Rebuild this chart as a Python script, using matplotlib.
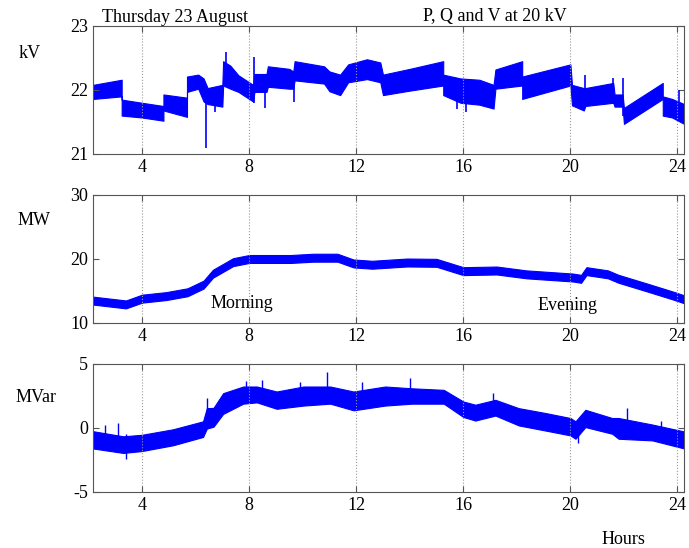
import numpy as np
import matplotlib.pyplot as plt

plt.rcParams['font.family'] = ['Liberation Serif', 'DejaVu Serif']
plt.rcParams['font.size'] = 12

# voltage band (kV); a repeated hour is a step change
kv_hours = [2.17, 3.24, 3.24, 4.0, 4.8, 4.8, 5.68, 5.68, 6.1, 6.3, 6.45, 7.0,
            7.03, 7.3, 7.6, 8.15, 8.2, 8.65, 8.7, 9.5, 9.65, 9.7, 10.8, 11.0,
            11.4, 11.7, 12.4, 12.9, 13.0, 14.0, 15.25, 15.25, 15.9, 16.6, 17.13,
            17.2, 18.2, 18.2, 20.0, 20.06, 20.5, 20.56, 21.6, 21.65, 21.95, 22.0,
            23.45, 23.45, 23.8, 24.25]
kv_low = [21.86, 21.9, 21.6, 21.57, 21.52, 21.68, 21.58, 21.97, 22.02, 21.82, 21.78, 21.74,
          22.07, 22.02, 21.97, 21.82, 21.97, 21.97, 22.05, 22.02, 22.02, 22.15, 22.1, 21.98,
          21.92, 22.12, 22.17, 22.12, 21.92, 21.99, 22.07, 21.92, 21.8, 21.77, 21.71,
          22.02, 22.07, 21.86, 22.07, 21.76, 21.68, 21.75, 21.8, 21.74, 21.74, 21.47,
          21.86, 21.6, 21.57, 21.47]
kv_high = [22.08, 22.16, 21.85, 21.8, 21.75, 21.93, 21.88, 22.21, 22.24, 22.18, 22.03, 22.08,
           22.45, 22.38, 22.23, 22.08, 22.25, 22.25, 22.37, 22.33, 22.29, 22.45, 22.37, 22.29,
           22.24, 22.4, 22.48, 22.43, 22.24, 22.33, 22.45, 22.24, 22.18, 22.16, 22.08,
           22.32, 22.45, 22.21, 22.4, 22.08, 22.03, 22.03, 22.11, 21.93, 21.93, 21.72,
           22.11, 21.9, 21.86, 21.78]
# narrow spikes in the voltage trace: hour, bottom, top
kv_spike_h = [6.38, 6.73, 7.15, 8.2, 8.6, 9.68, 15.75, 16.1, 20.55, 21.6, 21.97, 24.05]
kv_spike_lo = [21.09, 21.66, 22.2, 21.8, 21.72, 21.82, 21.7, 21.66, 21.9, 21.8, 21.6, 21.6]
kv_spike_hi = [21.9, 22.0, 22.6, 22.52, 22.0, 22.1, 22.1, 22.0, 22.23, 22.18, 22.18, 22.0]

# active power (MW), centre of the band
mw_hours = [2.17, 3.4, 4.0, 4.9, 5.7, 6.3, 6.65, 7.4, 8.0, 9.55, 10.4, 11.3,
            11.9, 12.6, 13.9, 15.0, 16.0, 17.25, 18.35, 20.1, 20.4, 20.6, 21.4,
            21.8, 22.9, 23.9, 24.25]
mw_mid = [13.5, 12.9, 13.8, 14.2, 14.8, 16.0, 17.7, 19.5, 20.0, 20.0, 20.2, 20.2,
          19.3, 19.1, 19.45, 19.4, 18.1, 18.2, 17.6, 17.1, 16.9, 18.1, 17.6,
          16.9, 15.5, 14.2, 13.7]

# reactive power (MVar), lower and upper edge of the band
mvar_hours = [2.17, 3.3, 4.0, 5.16, 6.28, 6.42, 6.67, 7.03, 7.78, 8.29, 9.03, 10.03,
              11.03, 11.9, 13.08, 14.08, 15.27, 16.0, 16.45, 17.2, 18.07, 19.07,
              20.0, 20.19, 20.56, 21.56, 21.8, 23.06, 24.25]
mvar_low = [-1.6, -1.95, -1.8, -1.35, -0.7, -0.05, 0.1, 1.1, 1.9, 2.0, 1.5, 1.75,
            1.9, 1.38, 1.75, 1.9, 1.9, 0.86, 0.58, 0.97, 0.2, -0.2,
            -0.58, -0.84, 0.07, -0.45, -0.84, -0.97, -1.6]
mvar_high = [-0.25, -0.65, -0.53, -0.1, 0.52, 1.55, 1.57, 2.72, 3.24, 3.24, 2.85, 3.24,
             3.24, 2.85, 3.24, 3.1, 2.98, 2.07, 1.82, 2.2, 1.55, 1.17,
             0.78, 0.52, 1.42, 0.78, 0.78, 0.27, -0.27]
mvar_spike_h = [2.6, 3.1, 3.4, 6.43, 7.9, 8.5, 9.9, 10.9, 12.2, 14.0, 17.1, 20.3, 22.1, 23.4]
mvar_spike_lo = [-1.0, -1.0, -2.4, 0.5, 2.0, 2.0, 2.0, 2.2, 1.8, 2.2, 1.2, -1.2, 0.2, -0.3]
mvar_spike_hi = [0.2, 0.4, -0.5, 2.35, 3.7, 3.75, 3.6, 4.4, 3.6, 3.9, 2.7, 0.4, 1.6, 0.55]

xticks = [4, 8, 12, 16, 20, 24]
blue = '#0000ff'

fig = plt.figure(figsize=(6.89, 5.48), dpi=100)
ax1 = fig.add_axes([0.135, 0.719, 0.858, 0.2336])
ax2 = fig.add_axes([0.135, 0.4106, 0.858, 0.2336])
ax3 = fig.add_axes([0.135, 0.1022, 0.858, 0.2336])

ax1.fill_between(kv_hours, kv_low, kv_high, color=blue, lw=0.8, edgecolor=blue)
ax1.vlines(kv_spike_h, kv_spike_lo, kv_spike_hi, color=blue, lw=1.2)

mw_mid = np.array(mw_mid)
ax2.fill_between(mw_hours, mw_mid - 0.62, mw_mid + 0.62, color=blue, lw=0.8, edgecolor=blue)

ax3.fill_between(mvar_hours, mvar_low, mvar_high, color=blue, lw=0.8, edgecolor=blue)
ax3.vlines(mvar_spike_h, mvar_spike_lo, mvar_spike_hi, color=blue, lw=1.0)

limits = [(21, 23), (10, 30), (-5, 5)]
for ax, (lo, hi) in zip([ax1, ax2, ax3], limits):
    ax.set_xlim(2.17, 24.25)
    ax.set_ylim(lo, hi)
    ax.set_xticks(xticks)
    ax.set_yticks([lo, (lo + hi) / 2, hi])
    ax.set_yticklabels([f"{v:g}" for v in [lo, (lo + hi) / 2, hi]])
    ax.tick_params(direction='in', top=True, right=True, length=4, labelsize=13,
                   color='#555555')
    ax.grid(axis='x', linestyle=':', color='#999999', lw=0.8)
    for s in ax.spines.values():
        s.set_color('#555555')

fig.text(30 / 689, 1 - 53 / 548, "kV", ha='center', va='center', fontsize=13)
fig.text(34 / 689, 1 - 220 / 548, "MW", ha='center', va='center', fontsize=13)
fig.text(36 / 689, 1 - 398 / 548, "MVar", ha='center', va='center', fontsize=13)
fig.text(102 / 689, 1 - 17 / 548, "Thursday 23 August", ha='left', va='center', fontsize=13)
fig.text(423 / 689, 1 - 16 / 548, "P, Q and V at 20 kV", ha='left', va='center', fontsize=13)
ax2.text(6.54, 13.1, "Morning", ha='left', va='center', fontsize=13)
ax2.text(18.77, 12.66, "Evening", ha='left', va='center', fontsize=13)
fig.text(623 / 689, 1 - 539 / 548, "Hours", ha='center', va='center', fontsize=13)

fig.savefig("out.png", dpi=100)
